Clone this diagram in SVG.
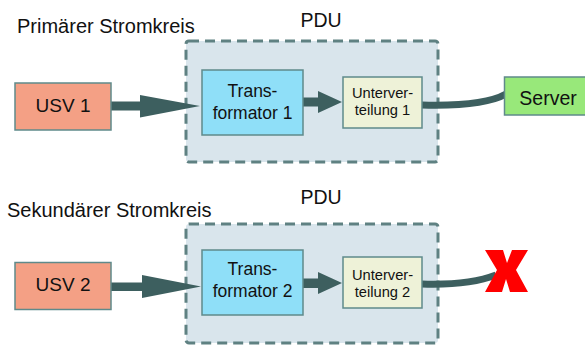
<svg xmlns="http://www.w3.org/2000/svg" width="585" height="345" viewBox="0 0 585 345">
<style>
text{font-family:"Liberation Sans",Arial,sans-serif;fill:#111;}
.lbl{font-size:20px;}
.big{font-size:19px;text-anchor:middle;}
.mid{font-size:17.5px;text-anchor:middle;}
.sm{font-size:14.7px;text-anchor:middle;}
.pdu{fill:#d9e5ec;stroke:#5f8182;stroke-width:3;stroke-dasharray:10 6;}
.box{stroke:#5f8a8b;stroke-width:1.5;}
.usv{fill:#f4a085;}
.tr{fill:#8fdff8;}
.uv{fill:#eef2d8;}
.srv{fill:#98e87a;}
.conn{fill:#3d5f5f;}
.cable{fill:none;stroke:#3d5f5f;stroke-width:7;}
</style>
<g id="label-primary"><text class="lbl" x="17" y="33">Primärer Stromkreis</text></g>
<g id="label-secondary"><text class="lbl" x="7" y="217">Sekundärer Stromkreis</text></g>
<g id="pdu1">
<rect class="pdu" x="186" y="41" width="252" height="121" rx="3"/>
<text class="big" x="321" y="27" style="font-size:19.5px">PDU</text>
</g>
<g id="pdu2">
<rect class="pdu" x="186" y="224" width="252" height="119" rx="3"/>
<text class="big" x="321" y="204" style="font-size:19.5px">PDU</text>
</g>
<g id="connectors">
<path class="conn" d="M111,101.5 H140 V95 L200,106 L140,117.5 V110.5 H111 Z"/>
<path class="conn" d="M303,97.5 H318 V91 L342,102 L318,113 V106.5 H303 Z"/>
<path class="cable" d="M422,105 C460,106 490,103 506,94"/>
<path class="conn" d="M111,282.5 H142 V275 L201,286.5 L142,298 V291 H111 Z"/>
<path class="conn" d="M303,278.5 H318 V272 L342,283 L318,294 V288 H303 Z"/>
<path class="cable" d="M422,284 C455,285 478,282 496,275"/>
</g>
<g id="usv1"><rect class="box usv" x="15" y="83" width="96" height="47"/><text class="big" x="63" y="112">USV 1</text></g>
<g id="trafo1"><rect class="box tr" x="202" y="70" width="101" height="65"/><text class="mid" x="252.5" y="97">Trans-</text><text class="mid" x="252.5" y="119">formator 1</text></g>
<g id="uv1"><rect class="box uv" x="343" y="77" width="79" height="51"/><text class="sm" x="382.5" y="98">Unterver-</text><text class="sm" x="382.5" y="115">teilung 1</text></g>
<g id="server"><rect class="box srv" x="504.5" y="77" width="82" height="38"/><text class="big" x="548" y="105" style="font-size:19.5px">Server</text></g>
<g id="usv2"><rect class="box usv" x="15" y="262.5" width="96" height="47"/><text class="big" x="63" y="291">USV 2</text></g>
<g id="trafo2"><rect class="box tr" x="202" y="250" width="101" height="65"/><text class="mid" x="252.5" y="275">Trans-</text><text class="mid" x="252.5" y="297">formator 2</text></g>
<g id="uv2"><rect class="box uv" x="343" y="257" width="79" height="51"/><text class="sm" x="382.5" y="279.5">Unterver-</text><text class="sm" x="382.5" y="297">teilung 2</text></g>
<g id="failure"><polygon fill="#ff0000" points="485,250 503,250 507,263 512,250 528,250 516,270 528,292 510,292 506,279 502,292 485,292 497,270"/></g>
</svg>
